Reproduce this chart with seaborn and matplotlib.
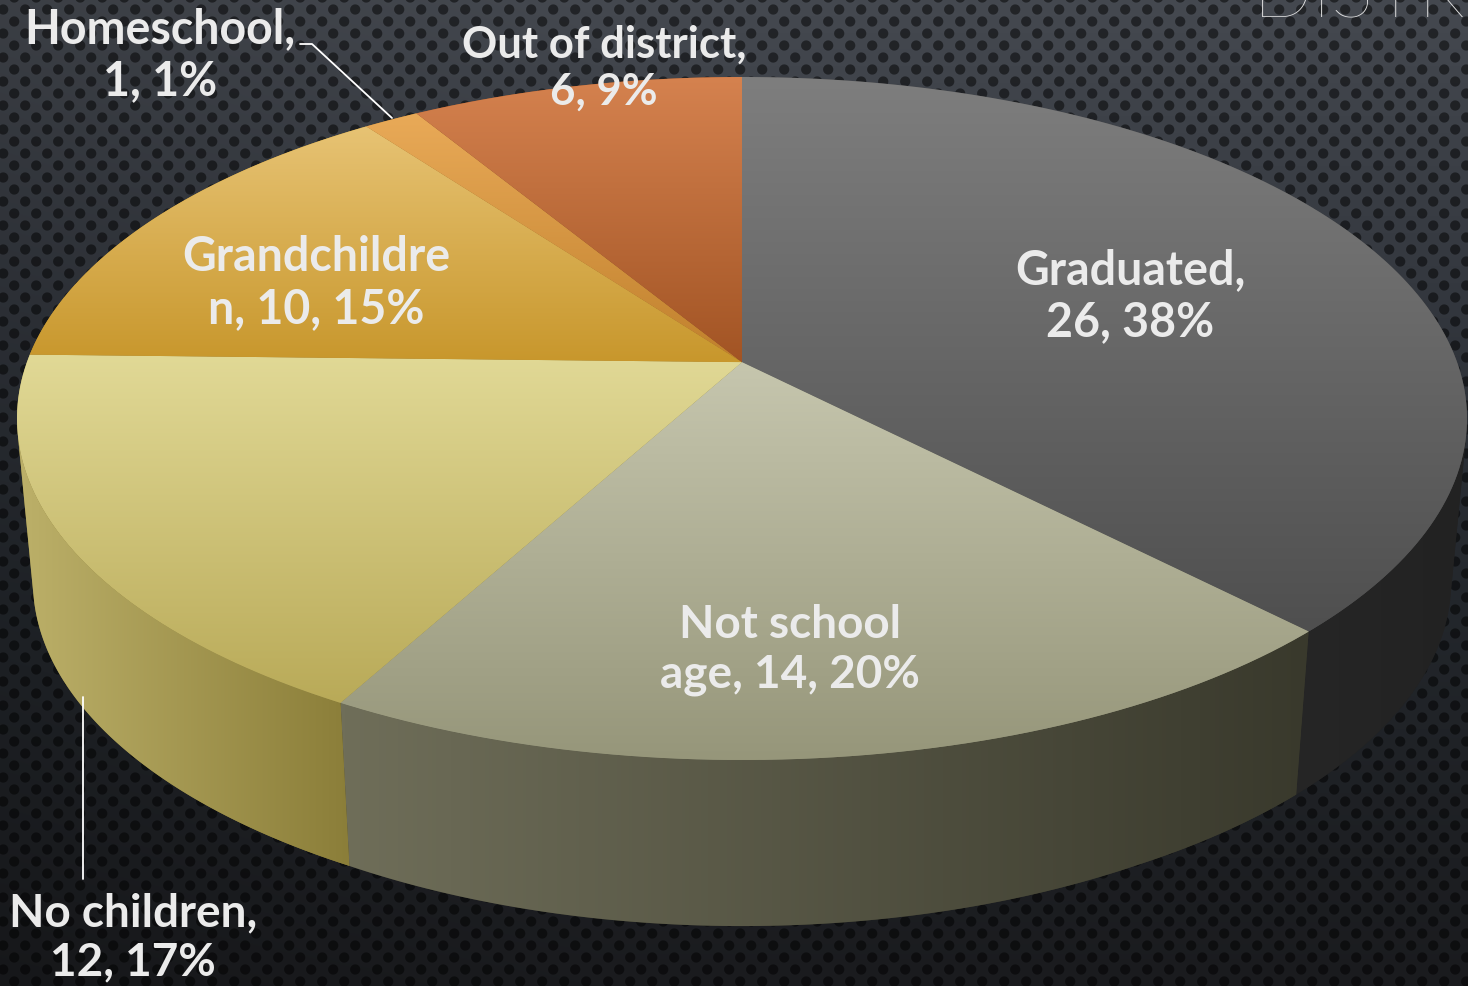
import numpy as np
import matplotlib
matplotlib.use("Agg")
import matplotlib.pyplot as plt
import seaborn as sns
from matplotlib.patches import Polygon
from matplotlib.path import Path
from matplotlib.transforms import Transform, Affine2D
from matplotlib.colors import to_rgb

categories = ["Graduated", "Not school age", "No children", "Grandchildren", "Homeschool", "Out of district"]
counts = [26, 14, 12, 10, 1, 6]
labels = ["Graduated,\n26, 38%", "Not school\nage, 14, 20%", "No children,\n12, 17%",
          "Grandchildre\nn, 10, 15%", "Homeschool,\n1, 1%", "Out of district,\n6, 9%"]
title_fragment = "DISTRIC"

top_light = ["#7e7e7e", "#c6c6ae", "#e1d996", "#e7c374", "#e9aa58", "#d5824f"]
top_dark = ["#4f4f4f", "#96967a", "#b9aa58", "#c8972c", "#c0802c", "#a25424"]
side_left = ["#262626", "#6f6e59", "#bcb069", "#8a7a38", "#8a6030", "#703a18"]
side_right = ["#222222", "#39392c", "#8b7e39", "#8a7a38", "#8a6030", "#703a18"]

W, H = 1468, 987
CX, CY, RX, RY, TILT = 742.0, 419.5, 725.0, 341.5, 0.165
SHRINK = 0.978

sns.set_theme(style="white")
plt.rcParams["font.family"] = ["Lato", "DejaVu Sans"]


class Perspective(Transform):
    input_dims = output_dims = 2
    is_affine = False
    has_inverse = False

    def transform_non_affine(self, values):
        values = np.asarray(values, float)
        u, v = values[:, 0], values[:, 1]
        d = 1 + TILT * v
        X = u * np.sqrt(1 - TILT ** 2) / d
        Y = (v + TILT) / d
        return np.column_stack([CX + RX * X, CY - RY * Y])

    def transform_path_non_affine(self, path):
        polys = path.to_polygons(Affine2D().scale(2000), closed_only=True)
        return Path(self.transform_non_affine(polys[0] / 2000), closed=True)


persp = Perspective()


def lower_rim(pts):
    x = CX + SHRINK * (pts[:, 0] - CX)
    y = pts[:, 1] + 163 + 3 * np.clip(pts[:, 1] - 703, 0, None) / 57
    return np.column_stack([x, y])


fig = plt.figure(figsize=(W / 100, H / 100), dpi=100)
ax = fig.add_axes([0, 0, 1, 1])

# perforated backdrop
yy, xx = np.mgrid[0:H, 0:W]
stops_y = [0, 300, 600, 987]
base = np.stack([np.interp(yy, stops_y, [c[i] for c in
                 [to_rgb("#454950"), to_rgb("#33373e"), to_rgb("#23272c"), to_rgb("#1a1b1e")]])
                 for i in range(3)], axis=-1)
base *= (0.86 + 0.14 * np.clip(xx / 600, 0, 1))[..., None]
row = np.round((yy - 10) / 12)
dx = (xx - 2.7 - 11 * (row % 2 == 1)) % 22
dx = np.minimum(dx, 22 - dx)
dist = np.hypot(dx, yy - 10 - row * 12)
dots = np.clip(5.6 - dist, 0, 1)[..., None]
base = base * (1 - 0.5 * dots)

wedges, _ = ax.pie(counts, startangle=90, counterclock=False, colors=sns.color_palette(top_dark))
ax.set_aspect("auto")
ax.imshow(base, extent=(0, W, H, 0), aspect="auto", zorder=0, interpolation="nearest")

for i, w in enumerate(wedges):
    # outer wall of the slice: only the front-facing stretch of the rim
    t = np.radians(np.linspace(w.theta1, w.theta2, 400))
    rim = persp.transform_non_affine(np.column_stack([np.cos(t), np.sin(t)]))
    low = lower_rim(rim)
    tan = np.gradient(rim, axis=0)
    depth = low - rim
    front = tan[:, 0] * depth[:, 1] - tan[:, 1] * depth[:, 0] > 0
    if front.sum() < 2:
        continue
    wall = Polygon(np.vstack([rim[front], low[front][::-1]]), closed=True,
                   fc=side_right[i], ec="none", zorder=1)
    ax.add_patch(wall)
    x0, x1 = wall.get_xy()[:, 0].min(), wall.get_xy()[:, 0].max()
    grad = np.array(sns.blend_palette([side_left[i], side_right[i]], 256))[None, :, :]
    im = ax.imshow(grad, extent=(x0, x1, H, 0), aspect="auto", zorder=1.1)
    im.set_clip_path(wall)

for i, w in enumerate(wedges):
    # top face of the slice
    w.set_transform(persp + ax.transData)
    w.set_linewidth(0)
    w.set_zorder(2)
    t = np.radians(np.linspace(w.theta1, w.theta2, 200))
    pts = persp.transform_non_affine(np.vstack([np.column_stack([np.cos(t), np.sin(t)]), [[0, 0]]]))
    y0, y1 = pts[:, 1].min(), pts[:, 1].max()
    grad = np.array(sns.blend_palette([top_light[i], top_dark[i]], 256))[:, None, :]
    im = ax.imshow(grad, extent=(0, W, y1, y0), aspect="auto", zorder=2.1)
    im.set_clip_path(w)

ax.set_xlim(0, W)
ax.set_ylim(H, 0)
ax.axis("off")

# leader lines
ax.plot([300, 312, 392], [45, 45, 119], color="white", lw=1.3, zorder=3)
ax.plot([83, 83], [698, 880], color="white", lw=1.3, zorder=3)

label_xy = [(1130, 296), (790, 650), (133, 938), (316, 283), (160, 55), (604, 68)]
label_size = [33.5, 33, 33, 33.5, 33.5, 31.5]
for s, (x, y), fs in zip(labels, label_xy, label_size):
    ax.text(x, y, s, ha="center", va="center", color="#ebebeb", fontsize=fs,
            fontweight="bold", linespacing=1.22, zorder=4)

ax.text(1253, 17, title_fragment, ha="left", va="baseline", color="#e4e4e4",
        fontsize=57, fontweight="light", zorder=4)

fig.savefig("out.png", dpi=100)
